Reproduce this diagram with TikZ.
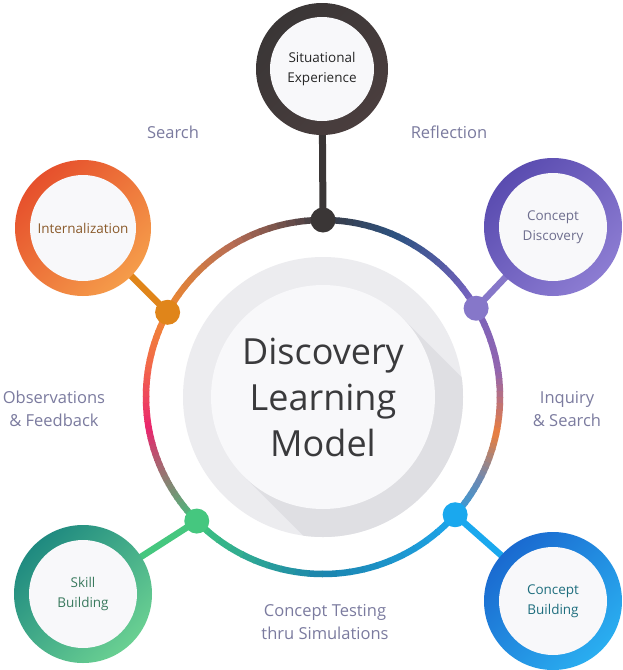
\documentclass[tikz,border=0pt]{standalone}
\usepackage{fontspec}
\setmainfont{Open Sans}
\usetikzlibrary{calc}
\definecolor{r0}{HTML}{3A3A42}
\definecolor{r1}{HTML}{2D5382}
\definecolor{r2}{HTML}{7462BE}
\definecolor{r3}{HTML}{9466AE}
\definecolor{r4}{HTML}{EA7F3E}
\definecolor{r5}{HTML}{6C88B2}
\definecolor{r6}{HTML}{1EA4E8}
\definecolor{r7}{HTML}{1B84AE}
\definecolor{r8}{HTML}{3EC47E}
\definecolor{r9}{HTML}{8C7F72}
\definecolor{r10}{HTML}{EA266E}
\definecolor{r11}{HTML}{F2684A}
\definecolor{r12}{HTML}{EF8A32}
\definecolor{r13}{HTML}{B56C55}
\definecolor{labc}{HTML}{7B7B9F}
\definecolor{titlec}{HTML}{3A3A3C}
\definecolor{grayd}{HTML}{ECECEF}
\definecolor{shadc}{HTML}{DFDFE3}
\definecolor{innerc}{HTML}{F8F8FA}
\definecolor{cT}{HTML}{3A3636}
\definecolor{cTb}{HTML}{4A3E3E}
\definecolor{cIa}{HTML}{E6502C}
\definecolor{cIb}{HTML}{F59C4A}
\definecolor{cIdot}{HTML}{E0851A}
\definecolor{cItx}{HTML}{8A5A2A}
\definecolor{cDa}{HTML}{5A4CB0}
\definecolor{cDb}{HTML}{8C7CD2}
\definecolor{cDdot}{HTML}{8677C9}
\definecolor{cDtx}{HTML}{6E6E8E}
\definecolor{cSa}{HTML}{1F8A80}
\definecolor{cSb}{HTML}{6AD092}
\definecolor{cSdot}{HTML}{45C77F}
\definecolor{cStx}{HTML}{3A7A5E}
\definecolor{cBa}{HTML}{1A6AD0}
\definecolor{cBb}{HTML}{2AAEF0}
\definecolor{cBdot}{HTML}{1AA8EE}
\definecolor{cBtx}{HTML}{1E6E7E}
\begin{document}
\begin{tikzpicture}[x=1pt,y=-1pt,
  conn/.style={line width=6.5pt},
  dotnode/.style={circle, inner sep=0pt, minimum size=25pt},
  outernode/.style={circle, inner sep=0pt, minimum size=#1},
  innernode/.style={circle, inner sep=0pt, fill=innerc, align=center,
     minimum size=#1, font=\fontsize{13.5}{19.5}\selectfont},
  lab/.style={align=center, text=labc, font=\fontsize{16.5}{22.5}\selectfont}]
\useasboundingbox (0,0) rectangle (623,670);
\fill[white] (0,0) rectangle (623,670);

\coordinate (C) at (323,397);
\coordinate (pT) at (322,69);
\coordinate (pI) at (83,228);
\coordinate (pD) at (553,227);
\coordinate (pS) at (83,594);
\coordinate (pB) at (553,601);
\path (C) ++(90:177pt) coordinate (dT);
\path (C) ++(151.4:177pt) coordinate (dI);
\path (C) ++(30.1:177pt) coordinate (dD);
\path (C) ++(224.5:177pt) coordinate (dS);
\path (C) ++(-41.7:177pt) coordinate (dB);

% central disc
\fill[grayd] (C) circle (140pt);
\begin{scope}
  \clip (C) circle (140pt);
  \fill[shadc] ($(C)+(45:112pt)$) -- ++(-45:300pt) -- ($(C)+(225:112pt)+(-45:300pt)$) -- ($(C)+(225:112pt)$) -- cycle;
\end{scope}
\node[circle, fill=innerc, minimum size=224pt, inner sep=0pt, align=center,
  text=titlec, font=\fontsize{36}{46}\selectfont] (M) at (C) {Discovery\\Learning\\Model};

% connectors
\draw[conn, cT, line width=7pt] (dT) -- (pT);
\draw[conn, cIdot] (dI) -- (pI);
\draw[conn, cDdot] (dD) -- (pD);
\draw[conn, cSdot] (dS) -- (pS);
\draw[conn, cBdot] (dB) -- (pB);

% gradient ring
\foreach \a/\b/\ca/\cb in {90/65/r0/r1, 65/35/r1/r2, 35/8/r2/r3, 8/-12/r3/r4,
   -12/-28/r4/r5, -28/-45/r5/r6, -45/-90/r6/r7, -90/-135/r7/r8, -135/-152/r8/r9,
   -152/-170/r9/r10, -170/-190/r10/r11, -190/-209/r11/r12, -209/-240/r12/r13,
   -240/-270/r13/r0} {
  \foreach \i in {0,...,9} {
    \pgfmathsetmacro\s{\a+(\b-\a)*\i/10}
    \pgfmathsetmacro\e{\a+(\b-\a)*(\i+1)/10-0.4}
    \pgfmathtruncatemacro\p{95-10*\i}
    \draw[line width=6.5pt, color=\ca!\p!\cb] (C) ++(\s:177pt) arc[start angle=\s, end angle=\e, radius=177pt];
  }
}

% dots
\node[dotnode, fill=cT] (oT) at (dT) {};
\node[dotnode, fill=cIdot] (oI) at (dI) {};
\node[dotnode, fill=cDdot] (oD) at (dD) {};
\node[dotnode, fill=cSdot] (oS) at (dS) {};
\node[dotnode, fill=cBdot] (oB) at (dB) {};

% outer nodes
\node[outernode=132pt, top color=cT, bottom color=cTb, shading angle=45] (T) at (pT) {};
\node[innernode=104pt, text=black!85] (Tl) at (pT) {Situational\\Experience};
\node[outernode=136pt, top color=cIa, bottom color=cIb, shading angle=45] (I) at (pI) {};
\node[innernode=106pt, text=cItx] (Il) at (pI) {Internalization};
\node[outernode=138pt, top color=cDa, bottom color=cDb, shading angle=45] (D) at (pD) {};
\node[innernode=108pt, text=cDtx] (Dl) at (pD) {Concept\\Discovery};
\node[outernode=138pt, top color=cSa, bottom color=cSb, shading angle=45] (S) at (pS) {};
\node[innernode=108pt, text=cStx] (Sl) at (pS) {Skill\\Building};
\node[outernode=138pt, top color=cBa, bottom color=cBb, shading angle=45] (B) at (pB) {};
\node[innernode=108pt, text=cBtx] (Bl) at (pB) {Concept\\Building};

% labels
\node[lab] (l1) at (173,132) {Search};
\node[lab] (l2) at (449,132) {Reflection};
\node[lab] (l3) at (54,409) {Observations\\\& Feedback};
\node[lab] (l4) at (567,409) {Inquiry\\\& Search};
\node[lab] (l5) at (325,622) {Concept Testing\\thru Simulations};
\end{tikzpicture}
\end{document}
